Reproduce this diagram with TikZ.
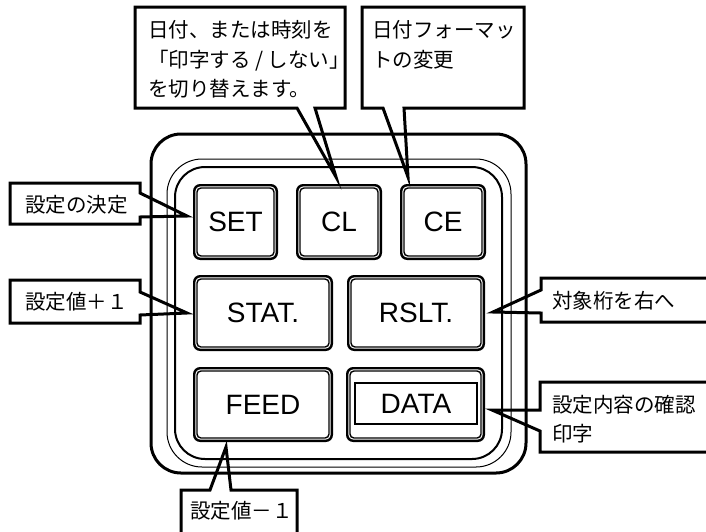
\documentclass[tikz,border=0pt]{standalone}
\usepackage{fontspec}
\setmainfont{Liberation Sans}
\newfontfamily\jp{Noto Sans CJK JP}
\begin{document}
\begin{tikzpicture}[x=1pt,y=-1pt,
  key/.style={draw, line width=2.4pt, rounded corners=6pt,
    inner sep=0pt, font=\fontsize{28}{30}\selectfont},
  keyin/.style={line width=1.4pt, rounded corners=4pt},
  callout/.style={line width=3pt, line join=miter},
  jtext/.style={anchor=base west, inner sep=0pt, font=\jp\fontsize{20.5}{29}\selectfont},
  frameA/.style={line width=3pt, rounded corners=30pt},
  frameB/.style={line width=1pt, rounded corners=35pt},
  frameC/.style={line width=2pt, rounded corners=30pt}]
\useasboundingbox[fill=white] (0,0) rectangle (706,531);
\begin{scope}
\clip (0,0) rectangle (706,531);
% panel frames
\draw[frameA] (151,134) rectangle (526,473);
\draw[frameB] (167,159) rectangle (511,467);
\draw[frameC] (175,167) rectangle (502,459);
% keys
\node[key, minimum width=82.6pt, minimum height=73.6pt] (set) at (235.5,222) {SET};
\node[key, minimum width=83.6pt, minimum height=73.6pt] (cl) at (339,222) {CL};
\node[key, minimum width=83.6pt, minimum height=73.6pt] (ce) at (443,222) {CE};
\node[key, minimum width=137.6pt, minimum height=73.6pt] (stat) at (263,313) {STAT.};
\node[key, minimum width=135.6pt, minimum height=73.6pt] (rslt) at (416,313) {RSLT.};
\node[key, minimum width=137.6pt, minimum height=72.6pt] (feed) at (263,404.5) {FEED};
\node[key, minimum width=136.6pt, minimum height=72.6pt] (data) at (415.5,404.5) {};
\foreach \k in {set,cl,ce,stat,rslt,feed,data}
  \draw[keyin] ([xshift=4pt,yshift=-4pt]\k.north west) rectangle ([xshift=-4pt,yshift=4pt]\k.south east);
\node[draw, line width=2pt, minimum width=122pt, minimum height=41pt, inner sep=0pt,
  font=\fontsize{28}{30}\selectfont] (datain) at (416,403.5) {DATA};
% callouts
\draw[callout] (135,7) -- (345,7) -- (345,108) -- (315,108) -- (336,177) -- (297,108) -- (135,108) -- cycle;
\draw[callout] (362,7) -- (524,7) -- (524,108) -- (404,108) -- (408,177) -- (383,108) -- (362,108) -- cycle;
\draw[callout] (10,183) -- (140,183) -- (140,193) -- (187,216) -- (140,217) -- (140,224) -- (10,224) -- cycle;
\draw[callout] (10,280) -- (140,280) -- (140,292) -- (187,313) -- (140,315) -- (140,323) -- (10,323) -- cycle;
\draw[callout] (712,278) -- (541,278) -- (541,290) -- (493,312) -- (541,313) -- (541,322) -- (712,322);
\draw[callout] (712,382) -- (540,382) -- (540,410) -- (492,410) -- (540,431) -- (540,452) -- (712,452);
\draw[callout] (181,537) -- (181,490) -- (210,490) -- (226,447) -- (231,490) -- (297,490) -- (297,537);
% callout texts
\node[jtext] (t1a) at (148,37) {日付、または時刻を};
\node[jtext] (t1b) at (148,67) {「印字する / しない」};
\node[jtext] (t1c) at (148,96) {を切り替えます。};
\node[jtext] (t2a) at (372,37) {日付フォーマッ};
\node[jtext] (t2b) at (372,67) {トの変更};
\node[jtext] (t3) at (25,212) {設定の決定};
\node[jtext] (t4) at (25,309) {設定値＋１};
\node[jtext] (t5) at (552,308) {対象桁を右へ};
\node[jtext] (t6a) at (552,412) {設定内容の確認};
\node[jtext] (t6b) at (552,441) {印字};
\node[jtext] (t7) at (190,518) {設定値－１};
\end{scope}
\end{tikzpicture}
\end{document}
